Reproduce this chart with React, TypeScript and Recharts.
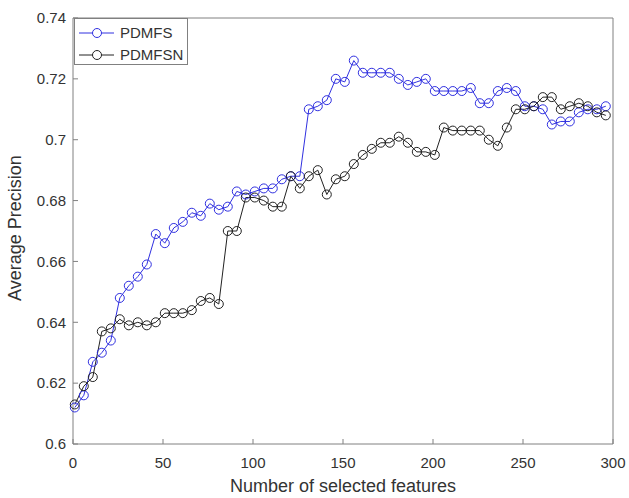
import { Legend, Line, LineChart, XAxis, YAxis } from "recharts";

const BLUE = "#3030e0";
const BLACK = "#222222";
const AXIS = "#808080";
const FONT = "'Liberation Sans', Arial, sans-serif";

// number of selected features at each evaluation step
const featureCounts = [
  1, 6, 11, 16, 21, 26, 31, 36, 41, 46, 51, 56, 61, 66, 71, 76, 81, 86, 91, 96,
  101, 106, 111, 116, 121, 126, 131, 136, 141, 146, 151, 156, 161, 166, 171, 176, 181, 186, 191, 196,
  201, 206, 211, 216, 221, 226, 231, 236, 241, 246, 251, 256, 261, 266, 271, 276, 281, 286, 291, 296,
];

const pdmfs = [
  0.612, 0.616, 0.627, 0.630, 0.634, 0.648, 0.652, 0.655, 0.659, 0.669,
  0.666, 0.671, 0.673, 0.676, 0.675, 0.679, 0.677, 0.678, 0.683, 0.682,
  0.683, 0.684, 0.684, 0.687, 0.688, 0.688, 0.710, 0.711, 0.713, 0.720,
  0.719, 0.726, 0.722, 0.722, 0.722, 0.722, 0.720, 0.718, 0.719, 0.720,
  0.716, 0.716, 0.716, 0.716, 0.717, 0.712, 0.712, 0.716, 0.717, 0.716,
  0.711, 0.711, 0.710, 0.705, 0.706, 0.706, 0.709, 0.710, 0.710, 0.711,
];

const pdmfsn = [
  0.613, 0.619, 0.622, 0.637, 0.638, 0.641, 0.639, 0.640, 0.639, 0.640,
  0.643, 0.643, 0.643, 0.644, 0.647, 0.648, 0.646, 0.670, 0.670, 0.681,
  0.681, 0.680, 0.678, 0.678, 0.688, 0.684, 0.688, 0.690, 0.682, 0.687,
  0.688, 0.692, 0.695, 0.697, 0.699, 0.699, 0.701, 0.699, 0.696, 0.696,
  0.695, 0.704, 0.703, 0.703, 0.703, 0.703, 0.700, 0.698, 0.704, 0.710,
  0.710, 0.711, 0.714, 0.714, 0.710, 0.711, 0.712, 0.711, 0.709, 0.708,
];

const xTicks = [0, 50, 100, 150, 200, 250, 300];
const yTicks = [0.6, 0.62, 0.64, 0.66, 0.68, 0.7, 0.72, 0.74];

const rows = featureCounts.map((n, i) => ({ n, pdmfs: pdmfs[i], pdmfsn: pdmfsn[i] }));

const tickStyle = { fill: "#333", fontSize: 15, fontFamily: FONT };

function LegendBox() {
  const entries = [
    { name: "PDMFS", color: BLUE, y: 15 },
    { name: "PDMFSN", color: BLACK, y: 37 },
  ];
  return (
    <svg width={114} height={47} style={{ display: "block" }}>
      <rect x={0.5} y={0.5} width={113} height={46} fill="#fff" stroke={AXIS} />
      {entries.map((e) => (
        <g key={e.name}>
          <line x1={5} x2={40} y1={e.y} y2={e.y} stroke={e.color} />
          <circle cx={23} cy={e.y} r={4.5} fill="#fff" stroke={e.color} />
          <text x={46} y={e.y + 5} fontSize={15} fontFamily={FONT} fill="#333">
            {e.name}
          </text>
        </g>
      ))}
    </svg>
  );
}

export default function App() {
  return (
    <div style={{ position: "fixed", left: 0, top: 0, width: 629, height: 498, background: "#fff" }}>
      <LineChart width={629} height={498} data={rows} margin={{ top: 17, right: 15, bottom: 10, left: 13 }}>
        <XAxis
          xAxisId="b"
          dataKey="n"
          type="number"
          domain={[0, 300]}
          ticks={xTicks}
          height={44}
          tickSize={-5}
          tickMargin={18}
          stroke={AXIS}
          tick={tickStyle}
          label={{
            value: "Number of selected features",
            position: "insideBottom",
            offset: -4,
            fontSize: 18,
            fontFamily: FONT,
            fill: "#333",
          }}
        />
        <XAxis
          xAxisId="t"
          dataKey="n"
          type="number"
          orientation="top"
          domain={[0, 300]}
          ticks={xTicks}
          height={1}
          tickSize={-5}
          tick={false}
          stroke={AXIS}
        />
        <YAxis
          yAxisId="l"
          type="number"
          domain={[0.6, 0.74]}
          ticks={yTicks}
          width={60}
          tickSize={-5}
          tickMargin={12}
          allowDataOverflow
          stroke={AXIS}
          tick={tickStyle}
          tickFormatter={(v: number) => String(Number(v.toFixed(2)))}
          label={{
            content: () => (
              <text
                x={15}
                y={228}
                transform="rotate(-90 15 228)"
                textAnchor="middle"
                dominantBaseline="central"
                fontSize={18}
                fontFamily={FONT}
                fill="#333"
              >
                Average Precision
              </text>
            ),
          }}
        />
        <YAxis
          yAxisId="r"
          type="number"
          orientation="right"
          domain={[0.6, 0.74]}
          ticks={yTicks}
          width={1}
          tickSize={-5}
          tick={false}
          stroke={AXIS}
        />
        {/* vertical layout + centered alignment keeps the legend from reserving plot space */}
        <Legend
          layout="vertical"
          verticalAlign="middle"
          align="center"
          wrapperStyle={{ left: 74, top: 18, width: 114 }}
          content={() => <LegendBox />}
        />
        <Line
          xAxisId="b"
          yAxisId="l"
          dataKey="pdmfs"
          stroke={BLUE}
          strokeWidth={1}
          dot={{ r: 4.5, stroke: BLUE, strokeWidth: 1, fill: "none" }}
          isAnimationActive={false}
        />
        <Line
          xAxisId="b"
          yAxisId="l"
          dataKey="pdmfsn"
          stroke={BLACK}
          strokeWidth={1}
          dot={{ r: 4.5, stroke: BLACK, strokeWidth: 1, fill: "none" }}
          isAnimationActive={false}
        />
      </LineChart>
    </div>
  );
}
